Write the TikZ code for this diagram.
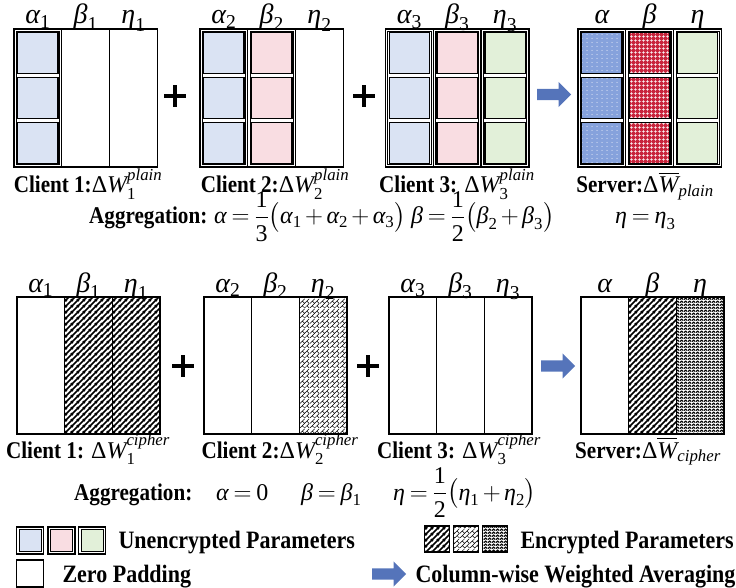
\documentclass[tikz,border=0pt]{standalone}
\usepackage{amsmath}
\usepackage{fontspec}
\setmainfont{Liberation Serif}[FakeStretch=0.88]
\newfontfamily\symserif{Liberation Serif}
\usetikzlibrary{patterns,shapes.arrows}

% Times-like letters inside formulas
\newcommand\mi[1]{\text{\symserif\mdseries\itshape #1}}
\newcommand\mr[1]{\text{\symserif\mdseries\upshape #1}}
\newcommand\ga{\mi{α}}
\newcommand\gb{\mi{β}}
\newcommand\gh{\mi{η}}
\newcommand\tightmath{\thickmuskip=3.5mu\medmuskip=2.5mu}
\newcommand\half[1]{\dfrac{\smash[t]{\mr{1}}}{\mr{#1}}}
% superscript tag lifted clear of the subscript
\newcommand\uptag[1]{\mi{\raisebox{2.5pt}{#1}}}

\definecolor{lblue}{HTML}{DAE3F3}
\definecolor{lpink}{HTML}{F9DDE2}
\definecolor{lgreen}{HTML}{E2F0D9}
\definecolor{sblue}{HTML}{86A2DC}
\definecolor{sred}{HTML}{C8243C}
\definecolor{arrowblue}{HTML}{5574BA}

% thick 45 degree hatching
\pgfdeclarepatternformonly{thickhatch}{\pgfqpoint{0pt}{0pt}}{\pgfqpoint{6pt}{6pt}}{\pgfqpoint{6pt}{6pt}}{%
  \pgfsetlinewidth{1.8pt}
  \pgfpathmoveto{\pgfqpoint{-1pt}{-1pt}}\pgfpathlineto{\pgfqpoint{7pt}{7pt}}
  \pgfpathmoveto{\pgfqpoint{-1pt}{5pt}}\pgfpathlineto{\pgfqpoint{1pt}{7pt}}
  \pgfpathmoveto{\pgfqpoint{5pt}{-1pt}}\pgfpathlineto{\pgfqpoint{7pt}{1pt}}
  \pgfusepath{stroke}}
% thin diagonal brick
\pgfdeclarepatternformonly{dbrick}{\pgfqpoint{0pt}{0pt}}{\pgfqpoint{10pt}{10pt}}{\pgfqpoint{10pt}{10pt}}{%
  \pgfsetlinewidth{0.55pt}
  \pgfpathmoveto{\pgfqpoint{0pt}{0pt}}\pgfpathlineto{\pgfqpoint{10pt}{10pt}}
  \pgfpathmoveto{\pgfqpoint{0pt}{5pt}}\pgfpathlineto{\pgfqpoint{5pt}{10pt}}
  \pgfpathmoveto{\pgfqpoint{5pt}{0pt}}\pgfpathlineto{\pgfqpoint{10pt}{5pt}}
  \pgfpathmoveto{\pgfqpoint{5pt}{5pt}}\pgfpathlineto{\pgfqpoint{2.5pt}{7.5pt}}
  \pgfpathmoveto{\pgfqpoint{7.5pt}{2.5pt}}\pgfpathlineto{\pgfqpoint{10pt}{0pt}}
  \pgfpathmoveto{\pgfqpoint{2.5pt}{2.5pt}}\pgfpathlineto{\pgfqpoint{5pt}{0pt}}
  \pgfpathmoveto{\pgfqpoint{7.5pt}{7.5pt}}\pgfpathlineto{\pgfqpoint{10pt}{5pt}}
  \pgfusepath{stroke}}
% dense zigzag
\pgfdeclarepatternformonly{zigzag}{\pgfqpoint{0pt}{0pt}}{\pgfqpoint{4pt}{2.6pt}}{\pgfqpoint{4pt}{2.6pt}}{%
  \pgfsetlinewidth{1.35pt}
  \pgfpathmoveto{\pgfqpoint{0pt}{0.5pt}}\pgfpathlineto{\pgfqpoint{2pt}{2.1pt}}\pgfpathlineto{\pgfqpoint{4pt}{0.5pt}}
  \pgfusepath{stroke}}
% white dots
\pgfdeclarepatternformonly{wdots}{\pgfqpoint{0pt}{0pt}}{\pgfqpoint{4.5pt}{4pt}}{\pgfqpoint{4.5pt}{4pt}}{%
  \pgfpathcircle{\pgfqpoint{2.25pt}{2pt}}{0.55pt}\pgfusepath{fill}}
% fine white grid
\pgfdeclarepatternformonly{wgrid}{\pgfqpoint{0pt}{0pt}}{\pgfqpoint{3.5pt}{3.5pt}}{\pgfqpoint{3.5pt}{3.5pt}}{%
  \pgfsetlinewidth{0.6pt}
  \pgfpathmoveto{\pgfqpoint{0pt}{1.75pt}}\pgfpathlineto{\pgfqpoint{3.5pt}{1.75pt}}
  \pgfpathmoveto{\pgfqpoint{1.75pt}{0pt}}\pgfpathlineto{\pgfqpoint{1.75pt}{3.5pt}}
  \pgfusepath{stroke}}

% inner frame and three cells of a filled column
\newcommand\cellcol[2]{%
  \draw[line width=0.8pt] ([shift={(2.3pt,-2.3pt)}]#1.north west) rectangle ([shift={(-2.3pt,2.3pt)}]#1.south east);
  \foreach \j/\dy in {1/45,2/0,3/-45} {\node[cell,#2] (#1s\j) at ([yshift=\dy pt]#1.center) {};}%
}

\begin{document}
\begin{tikzpicture}[x=1pt,y=-1pt,
  tcol/.style={draw, line width=1.3pt, minimum width=47.8pt, minimum height=138pt, inner sep=0pt, outer sep=0pt},
  bcol/.style={draw, line width=1.4pt, minimum width=47.6pt, minimum height=137pt, inner sep=0pt, outer sep=0pt},
  cell/.style={draw, line width=1.4pt, minimum width=40.4pt, minimum height=40.6pt, inner sep=0pt},
  zero/.style={},
  encA/.style={pattern=thickhatch},
  encB/.style={pattern=dbrick},
  encC/.style={pattern=zigzag},
  greek/.style={anchor=base, font=\fontsize{28}{30}\selectfont},
  clabel/.style={anchor=base, inner sep=1pt, font=\fontsize{24}{28}\selectfont\bfseries},
  agg/.style={anchor=base west, inner sep=1pt, font=\fontsize{24}{28}\selectfont\bfseries},
  form/.style={anchor=base west, inner sep=1pt, font=\fontsize{24}{28}\selectfont\tightmath},
  legtxt/.style={anchor=base west, font=\fontsize{25}{28}\selectfont\bfseries},
  plus/.style={minimum size=21pt, inner sep=0pt},
  plusbar/.style={line width=4.6pt},
  fat/.style={single arrow, fill=arrowblue, draw=none, anchor=tail, minimum height=34pt,
    inner xsep=0pt, inner ysep=5.5pt, single arrow head extend=7pt, single arrow head indent=0pt},
  lsq/.style={draw, line width=1.3pt, minimum width=27pt, minimum height=27pt, inner sep=0pt},
  lsqin/.style={draw, line width=1pt, minimum width=22pt, minimum height=22pt, inner sep=0pt},
  esq/.style={draw, line width=1.3pt, minimum width=25pt, minimum height=26pt, inner sep=0pt}
]
\useasboundingbox (0,0) rectangle (736,588);

%% ---------- plaintext aggregation ----------
\foreach \m/\xa/\xb/\xc in {1/37.9/85.7/133.5, 2/223.9/271.7/319.5, 3/409.4/457.2/505, 4/601.9/649.7/697.5} {
  \node[tcol] (t\m a) at (\xa,98) {};
  \node[tcol] (t\m b) at (\xb,98) {};
  \node[tcol] (t\m c) at (\xc,98) {};
}
\cellcol{t1a}{fill=lblue}
\cellcol{t2a}{fill=lblue}
\cellcol{t2b}{fill=lpink}
\cellcol{t3a}{fill=lblue}
\cellcol{t3b}{fill=lpink}
\cellcol{t3c}{fill=lgreen}
\cellcol{t4a}{preaction={fill=sblue}, pattern=wdots, pattern color=white}
\cellcol{t4b}{preaction={fill=sred}, pattern=wgrid, pattern color=white}
\cellcol{t4c}{fill=lgreen}

\node[greek] (g1a) at ([yshift=5pt]t1a.north) {$\ga_{\mr{1}}$};
\node[greek] (g1b) at ([yshift=5pt]t1b.north) {$\gb_{\mr{1}}$};
\node[greek] (g1c) at ([yshift=5pt]t1c.north) {$\gh_{\mr{1}}$};
\node[greek] (g2a) at ([yshift=5pt]t2a.north) {$\ga_{\mr{2}}$};
\node[greek] (g2b) at ([yshift=5pt]t2b.north) {$\gb_{\mr{2}}$};
\node[greek] (g2c) at ([yshift=5pt]t2c.north) {$\gh_{\mr{2}}$};
\node[greek] (g3a) at ([yshift=5pt]t3a.north) {$\ga_{\mr{3}}$};
\node[greek] (g3b) at ([yshift=5pt]t3b.north) {$\gb_{\mr{3}}$};
\node[greek] (g3c) at ([yshift=5pt]t3c.north) {$\gh_{\mr{3}}$};
\node[greek] (g4a) at ([yshift=5pt]t4a.north) {$\ga$};
\node[greek] (g4b) at ([yshift=5pt]t4b.north) {$\gb$};
\node[greek] (g4c) at ([yshift=5pt]t4c.north) {$\gh$};

\node[plus] (tp1) at (175,96) {};
\draw[plusbar] (tp1.west) -- (tp1.east) (tp1.north) -- (tp1.south);
\node[plus] (tp2) at (364,96) {};
\draw[plusbar] (tp2.west) -- (tp2.east) (tp2.north) -- (tp2.south);
\node[fat] (tarr) at (537,94.5) {};

\node[clabel] (tc1) at (88,193) {Client 1:$\mr{Δ}\mi{W}_{\mr{1}}^{\uptag{plain}}$};
\node[clabel] (tc2) at (275,193) {Client 2:$\mr{Δ}\mi{W}_{\mr{2}}^{\uptag{plain}}$};
\node[clabel] (tc3) at (457,193) {Client 3: $\mr{Δ}\mi{W}_{\mr{3}}^{\uptag{plain}}$};
\node[clabel] (tc4) at (645,193) {Server:$\mr{Δ}\overline{\mi{W}}_{\mi{plain}}$};

\node[agg] (tagg) at (88,224) {Aggregation:};
\node[form] (tfa) at (213,224) {$\ga=\half{3}\bigl(\ga_{\mr{1}}+\ga_{\mr{2}}+\ga_{\mr{3}}\bigr)$};
\node[form] (tfb) at (410,224) {$\gb=\half{2}\bigl(\gb_{\mr{2}}+\gb_{\mr{3}}\bigr)$};
\node[form] (tfc) at (614,224) {$\gh=\gh_{\mr{3}}$};

%% ---------- ciphertext aggregation ----------
\foreach \m/\xa/\xb/\xc/\sa/\sb/\sc in {1/40.8/88.4/136/zero/encA/encA, 2/227.8/275.4/323/zero/zero/encB,
    3/412.8/460.4/508/zero/zero/zero, 4/604.8/652.4/700/zero/encA/encC} {
  \node[bcol,\sa] (b\m a) at (\xa,365.5) {};
  \node[bcol,\sb] (b\m b) at (\xb,365.5) {};
  \node[bcol,\sc] (b\m c) at (\xc,365.5) {};
}
\node[greek] (h1a) at ([yshift=5pt]b1a.north) {$\ga_{\mr{1}}$};
\node[greek] (h1b) at ([yshift=5pt]b1b.north) {$\gb_{\mr{1}}$};
\node[greek] (h1c) at ([yshift=5pt]b1c.north) {$\gh_{\mr{1}}$};
\node[greek] (h2a) at ([yshift=5pt]b2a.north) {$\ga_{\mr{2}}$};
\node[greek] (h2b) at ([yshift=5pt]b2b.north) {$\gb_{\mr{2}}$};
\node[greek] (h2c) at ([yshift=5pt]b2c.north) {$\gh_{\mr{2}}$};
\node[greek] (h3a) at ([yshift=5pt]b3a.north) {$\ga_{\mr{3}}$};
\node[greek] (h3b) at ([yshift=5pt]b3b.north) {$\gb_{\mr{3}}$};
\node[greek] (h3c) at ([yshift=5pt]b3c.north) {$\gh_{\mr{3}}$};
\node[greek] (h4a) at ([yshift=5pt]b4a.north) {$\ga$};
\node[greek] (h4b) at ([yshift=5pt]b4b.north) {$\gb$};
\node[greek] (h4c) at ([yshift=5pt]b4c.north) {$\gh$};

\node[plus] (bp1) at (183,366) {};
\draw[plusbar] (bp1.west) -- (bp1.east) (bp1.north) -- (bp1.south);
\node[plus] (bp2) at (368,366) {};
\draw[plusbar] (bp2.west) -- (bp2.east) (bp2.north) -- (bp2.south);
\node[fat] (barr) at (541,366) {};

\node[clabel] (bc1) at (88,458) {Client 1: $\mr{Δ}\mi{W}_{\mr{1}}^{\uptag{cipher}}$};
\node[clabel] (bc2) at (280,458) {Client 2:$\mr{Δ}\mi{W}_{\mr{2}}^{\uptag{cipher}}$};
\node[clabel] (bc3) at (459,458) {Client 3: $\mr{Δ}\mi{W}_{\mr{3}}^{\uptag{cipher}}$};
\node[clabel] (bc4) at (648,458) {Server:$\mr{Δ}\overline{\mi{W}}_{\mi{cipher}}$};

\node[agg] (bagg) at (73,500) {Aggregation:};
\node[form] (bfa) at (215,500) {$\ga=\mr{0}$};
\node[form] (bfb) at (300,500) {$\gb=\gb_{\mr{1}}$};
\node[form] (bfc) at (392,500) {$\gh=\half{2}\bigl(\gh_{\mr{1}}+\gh_{\mr{2}}\bigr)$};

%% ---------- legend ----------
\node[lsq] (lu1) at (30,540.5) {};
\node[lsqin, fill=lblue] (lu1i) at (lu1.center) {};
\node[lsq] (lu2) at (61.5,540.5) {};
\node[lsqin, fill=lpink] (lu2i) at (lu2.center) {};
\node[lsq] (lu3) at (92,540.5) {};
\node[lsqin, fill=lgreen] (lu3i) at (lu3.center) {};
\node[legtxt] (lut) at (115,548) {Unencrypted Parameters};

\node[esq, encA] (le1) at (437,539) {};
\node[esq, encB] (le2) at (466,539) {};
\node[esq, encC] (le3) at (495,539) {};
\node[legtxt] (let) at (517,548) {Encrypted Parameters};

\node[lsq] (lz) at (30,573.5) {};
\node[legtxt] (lzt) at (59,582) {Zero Padding};

\node[fat] (larr) at (372,574) {};
\node[legtxt] (lat) at (412,582) {Column-wise Weighted Averaging};
\end{tikzpicture}
\end{document}
